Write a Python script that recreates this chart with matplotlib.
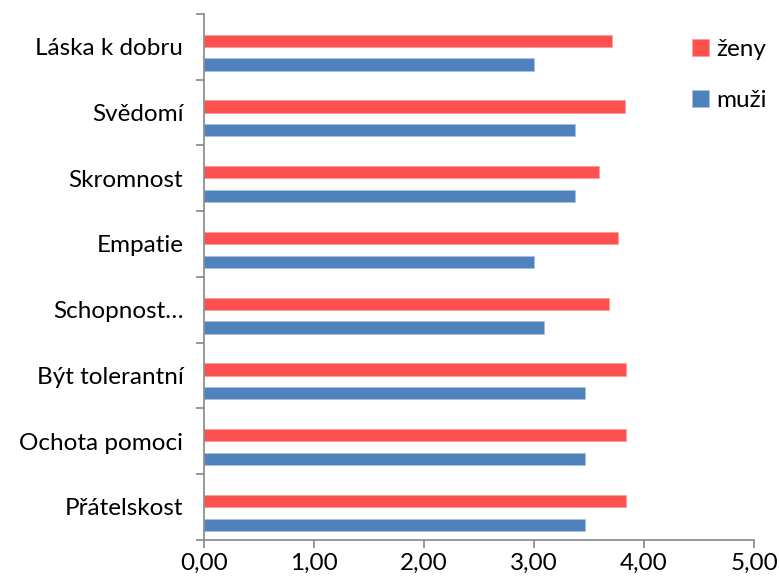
import matplotlib.pyplot as plt
import numpy as np

plt.rcParams['font.family'] = ['Lato', 'DejaVu Sans']

# kategorie odspodu nahoru
kategorie = ['Přátelskost', 'Ochota pomoci', 'Být tolerantní', 'Schopnost…',
             'Empatie', 'Skromnost', 'Svědomí', 'Láska k dobru']
zeny = [3.84, 3.84, 3.84, 3.68, 3.76, 3.59, 3.83, 3.71]
muzi = [3.46, 3.46, 3.46, 3.09, 3.00, 3.37, 3.37, 3.00]

barva_zeny = '#FF5050'
barva_muzi = '#4F81BD'
osa = '#868686'
pismo = 17.5

fig = plt.figure(figsize=(7.79, 5.78), dpi=100)
ax = fig.add_axes([0.262, 0.066, 0.706, 0.910])

y = np.arange(len(kategorie))
vyska = 0.185
ax.barh(y + 0.09, zeny, height=vyska, color=barva_zeny, edgecolor='#FF9A9A', linewidth=0.6, label='ženy')
ax.barh(y - 0.27, muzi, height=vyska, color=barva_muzi, edgecolor='#A9C0DE', linewidth=0.6, label='muži')

ax.set_xlim(0, 5)
ax.set_ylim(-0.5, len(kategorie) - 0.5)

ax.set_xticks(np.arange(0, 5.01, 1))
ax.set_xticklabels([f'{v:.2f}'.replace('.', ',') for v in np.arange(0, 5.01, 1)], fontsize=pismo)
ax.set_yticks(y)
ax.set_yticklabels(kategorie, fontsize=pismo)
ax.set_yticks(np.arange(-0.5, len(kategorie)), minor=True)

ax.tick_params(axis='y', which='major', length=0, pad=15)
ax.tick_params(axis='y', which='minor', length=6, color=osa, width=1.2)
ax.tick_params(axis='x', length=6, color=osa, width=1.2, pad=3)

for s in ['top', 'right']:
    ax.spines[s].set_visible(False)
for s in ['left', 'bottom']:
    ax.spines[s].set_color(osa)
    ax.spines[s].set_linewidth(1.2)

h, l = ax.get_legend_handles_labels()
ax.legend(h, l, loc='upper left', bbox_to_anchor=(0.87, 0.97), frameon=False,
          fontsize=pismo, handlelength=0.7, handleheight=0.7, handletextpad=0.3,
          labelspacing=1.2, borderaxespad=0)

fig.savefig('out.png', dpi=100)
